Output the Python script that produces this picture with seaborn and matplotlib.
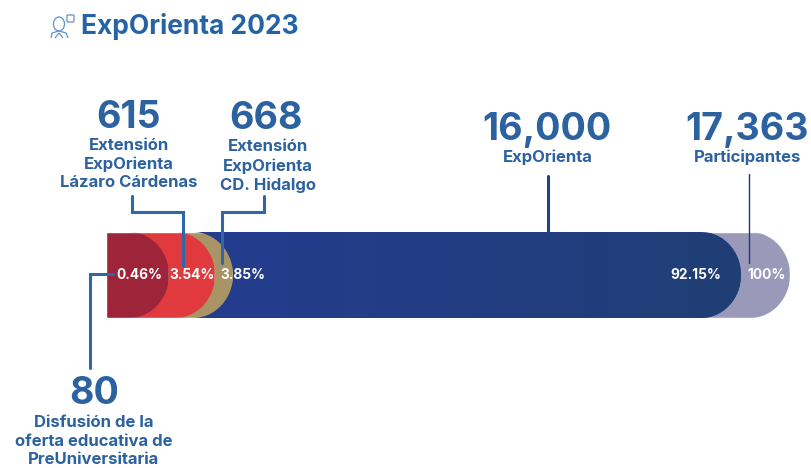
#!/usr/bin/env python
from __future__ import annotations

import matplotlib

matplotlib.use("Agg")
import matplotlib.pyplot as plt
import numpy as np
import pandas as pd
import seaborn as sns
from matplotlib.colors import LinearSegmentedColormap
from matplotlib.patches import Ellipse, FancyBboxPatch, Polygon
from matplotlib.path import Path

# data
names = ["Disfusión", "Lázaro Cárdenas", "CD. Hidalgo", "ExpOrienta", "Participantes"]
counts = [80, 615, 668, 16000, 17363]
shares = [0.46, 3.54, 3.85, 92.15, 100]
title = "ExpOrienta 2023"
callouts = [
    "Disfusión de la\noferta educativa de\nPreUniversitaria",
    "Extensión\nExpOrienta\nLázaro Cárdenas",
    "Extensión\nExpOrienta\nCD. Hidalgo",
    "ExpOrienta",
    "Participantes",
]

# layout, all in pixels of the 812x468 picture
W, H = 812, 468
BAR_LEFT, BAR_RIGHT, BAR_TOP, BAR_BOTTOM = 106, 790, 232, 318
BAR_ENDS = [169, 215, 233, 741, 790]  # the bars are not to scale in the original
CORNER_X, CORNER_Y = 40, 43
BAR_COLORS = ["#9e2439", "#e03a3e", "#a89465", "#243c8c", "#9b99ba"]
BLUE_FADE = ["#243c8e", "#1f3e74"]
TEXT = "#2c62a0"
LINE = "#2f67a8"
FONT = ["Inter", "DejaVu Sans"]

sns.set_theme(style="white")
plt.rcParams["font.family"] = FONT

fig = plt.figure(figsize=(W / 100, H / 100), dpi=100, facecolor="white")
ax = fig.add_axes([BAR_LEFT / W, 1 - BAR_BOTTOM / H, (BAR_RIGHT - BAR_LEFT) / W, (BAR_BOTTOM - BAR_TOP) / H])
px = fig.add_axes([0, 0, 1, 1], zorder=5)
px.set_xlim(0, W)
px.set_ylim(H, 0)
px.axis("off")
px.patch.set_alpha(0)

# bar lengths go through a piecewise scale, so the narrow slices stay readable
anchor_x = np.array([0, *shares], dtype=float)
anchor_t = np.array([0, *[(e - BAR_LEFT) / (BAR_RIGHT - BAR_LEFT) for e in BAR_ENDS]]) * 100
ax.set_xscale("function", functions=(lambda v: np.interp(v, anchor_x, anchor_t), lambda t: np.interp(t, anchor_t, anchor_x)))

df = pd.DataFrame({"name": names, "share": shares, "row": ["all"] * len(names)})
sns.barplot(
    data=df,
    x="share",
    y="row",
    hue="name",
    hue_order=names,
    palette=BAR_COLORS,
    dodge=False,
    width=1,
    saturation=1,
    legend=False,
    ax=ax,
)
ax.set_xlim(0, 100)
ax.set_ylim(0.5, -0.5)
ax.axis("off")


def rounded_end(right: float) -> Path:
    k = 0.552  # quarter circle
    verts = [
        (BAR_LEFT, BAR_TOP),
        (right - CORNER_X, BAR_TOP),
        (right - CORNER_X * (1 - k), BAR_TOP),
        (right, BAR_TOP + CORNER_Y * (1 - k)),
        (right, BAR_TOP + CORNER_Y),
        (right, BAR_BOTTOM - CORNER_Y * (1 - k)),
        (right - CORNER_X * (1 - k), BAR_BOTTOM),
        (right - CORNER_X, BAR_BOTTOM),
        (BAR_LEFT, BAR_BOTTOM),
        (BAR_LEFT, BAR_TOP),
    ]
    codes = [Path.MOVETO, Path.LINETO, Path.CURVE4, Path.CURVE4, Path.CURVE4, Path.CURVE4, Path.CURVE4, Path.CURVE4, Path.LINETO, Path.CLOSEPOLY]
    return Path(verts, codes)


# biggest bar at the back, right end rounded off by clipping
for i, container in enumerate(ax.containers):
    bar = container[0]
    right = BAR_ENDS[i]
    bar.set_zorder(10 - i)
    bar.set_clip_path(rounded_end(right), px.transData)
    if names[i] == "ExpOrienta":
        edges = np.linspace(0, shares[i], 120)
        fade = LinearSegmentedColormap.from_list("fade", BLUE_FADE)
        mesh = ax.pcolormesh(edges, [-0.5, 0.5], edges[:-1][None, :], cmap=fade, zorder=10 - i + 0.5)
        mesh.set_clip_path(rounded_end(right), px.transData)

# leader lines
px.plot([132, 132, 183, 183], [196, 212, 212, 266], color=LINE, lw=2.2, solid_joinstyle="miter")
px.plot([264, 264, 222, 222], [196, 212, 212, 263], color=LINE, lw=2.2, solid_joinstyle="miter")
px.plot([113, 90, 90], [274, 274, 368], color=LINE, lw=2.2, solid_joinstyle="miter")
px.plot([548, 548], [176, 232], color="#24408c", lw=2.2)
px.plot([749, 749], [174, 263], color="#24356f", lw=1.0)

# big numbers with their captions
number_pos = [(94, 394), (129, 118), (266, 119), (547, 130), (747, 130)]
caption_pos = [(94, 441), (129, 164), (268, 166), (548, 157), (748, 157)]
for n, cap, (nx, ny), (cx, cy) in zip(counts, callouts, number_pos, caption_pos):
    px.text(nx, ny, f"{n:,}", color=TEXT, fontsize=27, fontweight="bold", ha="center", va="center")
    px.text(cx, cy, cap, color=TEXT, fontsize=12, fontweight="bold", ha="center", va="center", linespacing=1.3)

# percent labels inside the bar
pct_x = [139, 192, 243, 696, 767]
for s, x in zip(shares, pct_x):
    px.text(x, 275, f"{s:g}%", color="white", fontsize=9.9, fontweight="bold", ha="center", va="center")

px.text(81, 26, title, color="#2463a4", fontsize=19, fontweight="bold", ha="left", va="center")

# small person icon next to the title
icon = "#5f93cc"
px.add_patch(Ellipse((59, 24), 11, 14, fill=False, ec=icon, lw=0.9))
px.add_patch(Polygon([(51, 38), (52, 33), (59, 31), (66, 33), (68, 38)], closed=False, fill=False, ec=icon, lw=0.9))
px.add_patch(Polygon([(55, 38), (59, 33), (63, 38)], closed=False, fill=False, ec=icon, lw=0.9))
px.add_patch(FancyBboxPatch((68, 16), 5, 5, boxstyle="round,pad=1", fill=False, ec=icon, lw=0.9))

fig.savefig("out.png", dpi=100)
plt.close(fig)
